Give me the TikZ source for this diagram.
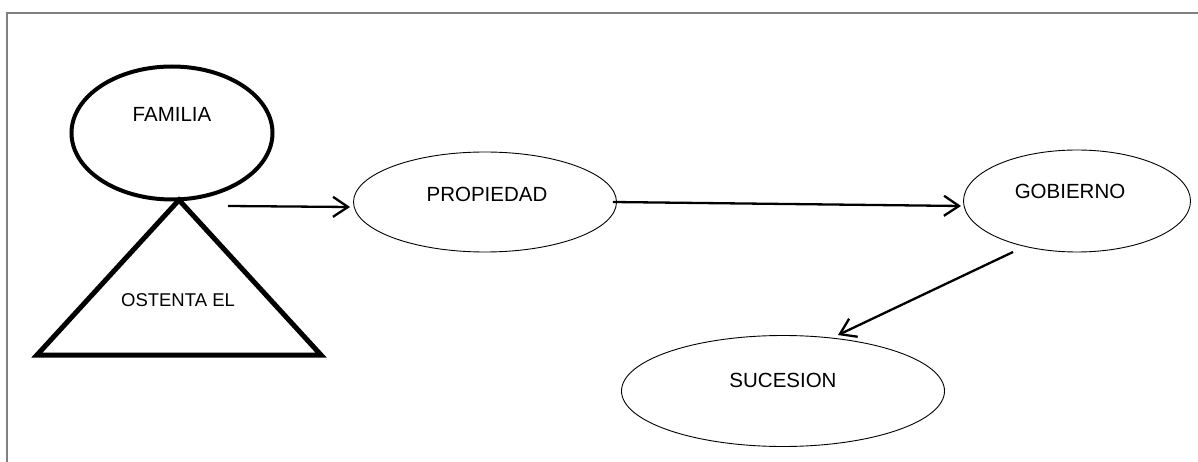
\documentclass[tikz,border=0pt]{standalone}
\usepackage{fontspec}
\setmainfont{Liberation Sans}
\usetikzlibrary{shapes.geometric, positioning, arrows.meta}
\tikzset{%
  oval/.style={        % plain ellipse boxes
    draw, ellipse, inner sep=0pt, line width=0.9pt},
  caption/.style={
    font=\fontsize{20.5}{24}\selectfont, inner sep=0pt},
  every edge/.style={
    draw,
    ->,
    >={Straight Barb[length=15pt, width=20pt]},
    line width=2.3pt} %
}

\begin{document}
\begin{tikzpicture}[x=1pt, y=-1pt]
    \useasboundingbox (0,0) rectangle (1198,462);

    % page frame
    \draw[gray, line width=1.2pt] (7,462) -- (7,13) -- (1198,13);

    % family on top of the triangle
    \node[oval, line width=4pt, minimum width=201pt, minimum height=133pt]
      (familia) at (172,133) {};
    \node[caption] (familiaTxt) at (172,114) {FAMILIA};

    \coordinate (apex)  at (179,200);
    \coordinate (baseL) at (37,355);
    \coordinate (baseR) at (321,355);
    \draw[line width=5pt, line join=miter] (apex) -- (baseR) -- (baseL) -- cycle;
    \node[caption, font=\fontsize{18.5}{22}\selectfont] (ostenta) at (178,300) {OSTENTA EL};

    % the chain
    \node[oval, minimum width=263pt, minimum height=100pt] (propiedad) at (485,202) {};
    \node[caption] (propiedadTxt) at (487,194) {PROPIEDAD};

    \node[oval, minimum width=227pt, minimum height=102pt] (gobierno) at (1077,201) {};
    \node[caption] (gobiernoTxt) at (1070,191) {GOBIERNO};

    \node[oval, minimum width=323pt, minimum height=111pt] (sucesion) at (783,391) {};
    \node[caption] (sucesionTxt) at (783,380) {SUCESION};

    \coordinate (famout) at (228,206);
    \coordinate (gobout) at (1013,252);

    \draw
      (famout) edge ([yshift=-5pt, xshift=-3pt]propiedad.west)
      ([xshift=-4pt]propiedad.east) edge ([yshift=-5pt, xshift=-2pt]gobierno.west)
      (gobout) edge ([xshift=55pt]sucesion.north)
    ;

\end{tikzpicture}
\end{document}
